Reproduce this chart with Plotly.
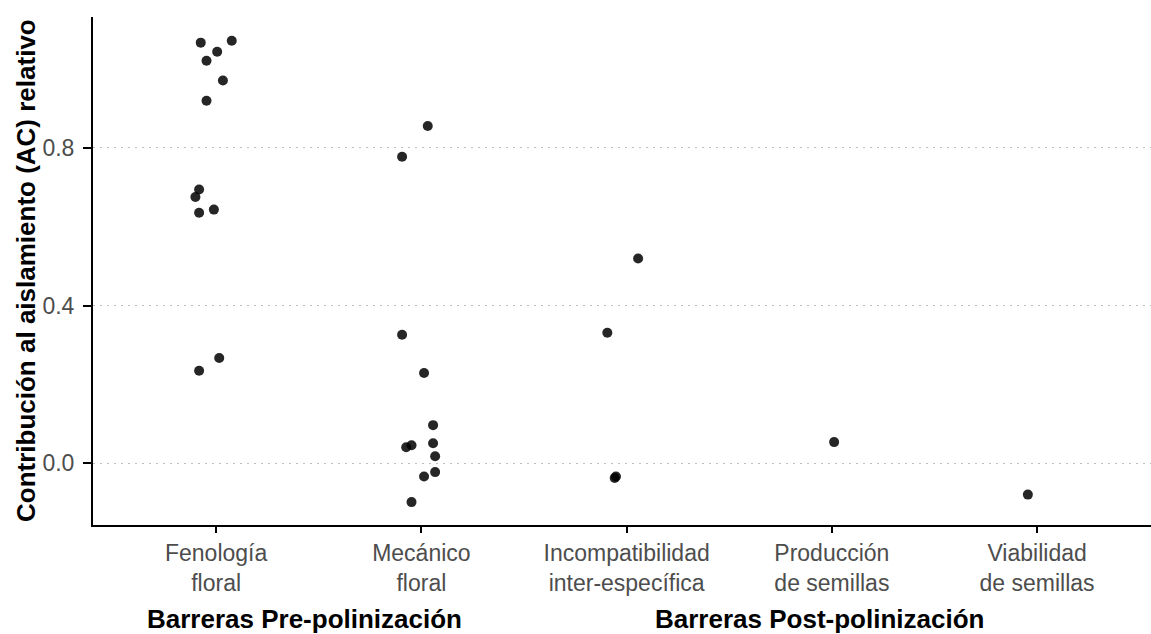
import plotly.graph_objects as go

# ---- data ----
categories = ["Fenología<br>floral", "Mecánico<br>floral",
              "Incompatibilidad<br>inter-específica", "Producción<br>de semillas",
              "Viabilidad<br>de semillas"]

fenologia_vals = [1.066, 1.071, 1.043, 1.020, 0.970, 0.919, 0.694, 0.675, 0.643, 0.635, 0.267, 0.235]
fenologia_jit = [-0.075, 0.076, 0.005, -0.047, 0.033, -0.047, -0.083, -0.101, -0.011, -0.083, 0.015, -0.083]

mecanico_vals = [0.855, 0.777, 0.326, 0.229, 0.097, 0.051, 0.041, 0.046, 0.018, -0.022, -0.033, -0.098]
mecanico_jit = [0.031, -0.094, -0.094, 0.013, 0.057, 0.057, -0.074, -0.048, 0.067, 0.067, 0.013, -0.048]

incompat_vals = [0.519, 0.331, -0.033, -0.037]
incompat_jit = [0.056, -0.094, -0.052, -0.058]

produccion_vals = [0.054]
produccion_jit = [0.011]

viabilidad_vals = [-0.079]
viabilidad_jit = [-0.045]

y_ticks = [0.0, 0.4, 0.8]
y_ticktext = ["0.0", "0.4", "0.8"]

group_labels = ["Barreras Pre-polinización", "Barreras Post-polinización"]

# ---- build ----
groups = [(fenologia_vals, fenologia_jit), (mecanico_vals, mecanico_jit),
          (incompat_vals, incompat_jit), (produccion_vals, produccion_jit),
          (viabilidad_vals, viabilidad_jit)]
xs, ys = [], []
for i, (vals, jit) in enumerate(groups):
    for v, j in zip(vals, jit):
        xs.append(i + j)
        ys.append(v)

W, H = 1151, 634
ml, mr, mt, mb = 93, 0, 17, 109
pw, ph = W - ml - mr, H - mt - mb

fig = go.Figure()
fig.add_trace(go.Scatter(
    x=xs, y=ys, mode="markers",
    marker=dict(size=10, color="rgba(0,0,0,0.85)", line=dict(width=0)),
    showlegend=False, hoverinfo="y"))

FONT = "Liberation Sans, Arial, sans-serif"

fig.update_layout(
    width=W, height=H,
    margin=dict(l=ml, r=mr, t=mt, b=mb, pad=0),
    paper_bgcolor="white", plot_bgcolor="white",
    font=dict(family=FONT, color="#4D4D4D"),
    xaxis=dict(
        range=[-0.6, 4.555],
        tickmode="array", tickvals=list(range(len(categories))), ticktext=categories,
        showline=True, linecolor="black", linewidth=2,
        ticks="outside", ticklen=6, tickwidth=1.5, tickcolor="black",
        tickfont=dict(size=23, color="#4D4D4D", family=FONT),
        showgrid=False, zeroline=False, fixedrange=True,
    ),
    yaxis=dict(
        range=[-0.156, 1.131],
        tickmode="array", tickvals=y_ticks, ticktext=y_ticktext,
        showline=True, linecolor="black", linewidth=2,
        ticks="outside", ticklen=8, tickwidth=1.5, tickcolor="black",
        ticklabelstandoff=4,
        tickfont=dict(size=23, color="#4D4D4D", family=FONT),
        showgrid=True, gridcolor="#BEBEBE", gridwidth=1, griddash="2px,5px",
        zeroline=False, fixedrange=True,
    ),
)

# y-axis title
fig.add_annotation(
    text="<b>Contribución al aislamiento (AC) relativo</b>",
    xref="paper", yref="paper",
    x=(26 - ml) / pw, y=(mt + ph - 271) / ph, xanchor="center", yanchor="middle",
    textangle=-90, showarrow=False,
    font=dict(size=26, color="black", family=FONT))

# group labels
for lbl, px in zip(group_labels, [145, 653]):
    fig.add_annotation(
        text="<b>" + lbl + "</b>",
        xref="paper", yref="paper",
        x=(px - ml) / pw, y=-(619 - (mt + ph)) / ph,
        xanchor="left", yanchor="middle", showarrow=False,
        font=dict(size=26, color="black", family=FONT))

fig.write_html("out.html")
